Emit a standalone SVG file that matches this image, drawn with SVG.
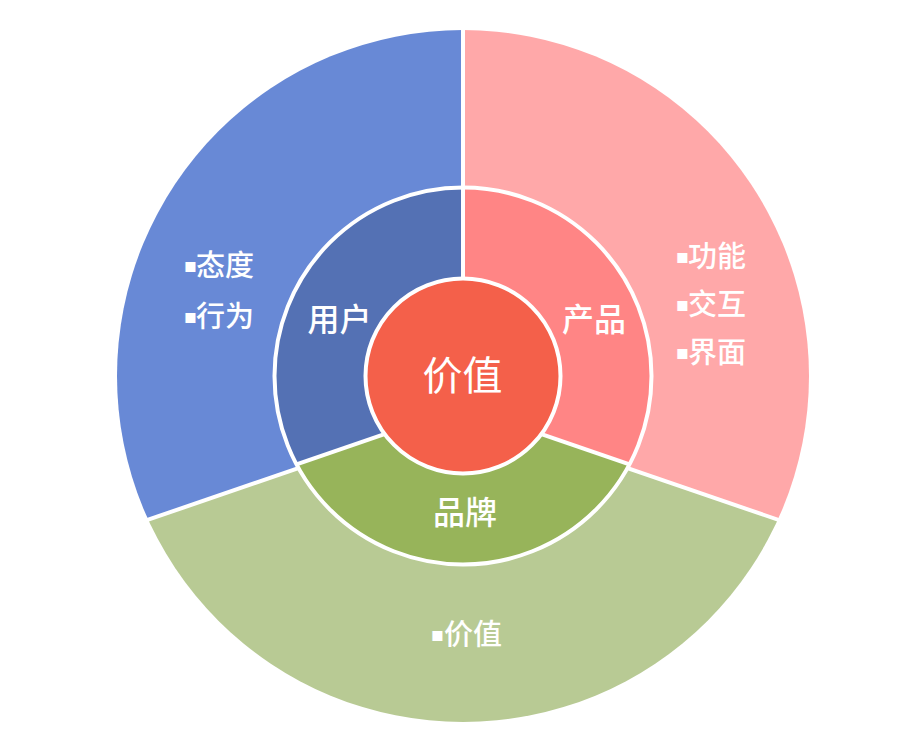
<svg xmlns="http://www.w3.org/2000/svg" width="919" height="753" viewBox="0 0 919 753">
<defs>
<style>
.sep{stroke:#fff;stroke-width:4;fill:none}
.t{font-family:"Noto Sans CJK SC","Noto Sans",sans-serif;fill:#fff;dominant-baseline:central}
.c{font-size:40px;font-weight:400;text-anchor:middle}
.m{font-size:32px;font-weight:500;text-anchor:middle}
.o{font-size:29px;font-weight:500}
.b{font-family:"DejaVu Sans",sans-serif;font-size:20px}
</style>
<clipPath id="outerClip"><circle cx="463" cy="376" r="346"/></clipPath>
<clipPath id="midClip"><circle cx="463" cy="376" r="188.5"/></clipPath>
</defs>
<rect width="919" height="753" fill="#fff"/>

<g id="outer-user" clip-path="url(#outerClip)">
<polygon points="463,20 463,411.7 100,536.2 100,20" fill="#6889D6"/>
</g>
<g id="outer-product" clip-path="url(#outerClip)">
<polygon points="463,20 463,411.7 826,536.2 826,20" fill="#FFA8A9"/>
</g>
<g id="outer-brand" clip-path="url(#outerClip)">
<polygon points="100,536.2 463,411.7 826,536.2 826,740 100,740" fill="#B8CA94"/>
</g>

<g id="connectors">
<line class="sep" x1="463" y1="20" x2="463" y2="300"/>
<line class="sep" x1="100" y1="536.2" x2="463" y2="411.7"/>
<line class="sep" x1="826" y1="536.2" x2="463" y2="411.7"/>
</g>

<g id="mid-user" clip-path="url(#midClip)">
<polygon points="463,150 463,407.2 250,480.3 250,150" fill="#5471B4"/>
</g>
<g id="mid-product" clip-path="url(#midClip)">
<polygon points="463,150 463,407.2 676,480.3 676,150" fill="#FF8585"/>
</g>
<g id="mid-brand" clip-path="url(#midClip)">
<polygon points="250,480.3 463,407.2 676,480.3 676,600 250,600" fill="#97B45A"/>
</g>
<g id="mid-separators" clip-path="url(#midClip)">
<line class="sep" x1="463" y1="150" x2="463" y2="300"/>
<line class="sep" x1="250" y1="480.3" x2="463" y2="407.2"/>
<line class="sep" x1="676" y1="480.3" x2="463" y2="407.2"/>
</g>
<circle class="sep" cx="463" cy="376" r="188.5"/>

<g id="core">
<circle cx="463" cy="376" r="97.5" fill="#F4604A" stroke="#fff" stroke-width="4"/>
<text class="t c" x="462.5" y="373">价值</text>
</g>

<g id="label-user"><text class="t m" x="339.5" y="317">用户</text></g>
<g id="label-product"><text class="t m" x="594" y="317">产品</text></g>
<g id="label-brand"><text class="t m" x="465" y="509.5">品牌</text></g>

<g id="items-user">
<text class="t o"><tspan class="b" x="183.5" y="265">▪</tspan><tspan x="196" y="263">态度</tspan></text>
<text class="t o"><tspan class="b" x="183.5" y="315.5">▪</tspan><tspan x="196" y="313.5">行为</tspan></text>
</g>
<g id="items-product">
<text class="t o"><tspan class="b" x="675.5" y="255.5">▪</tspan><tspan x="688" y="253.5">功能</tspan></text>
<text class="t o"><tspan class="b" x="675.5" y="303.5">▪</tspan><tspan x="688" y="301.5">交互</tspan></text>
<text class="t o"><tspan class="b" x="675.5" y="351.5">▪</tspan><tspan x="688" y="349.5">界面</tspan></text>
</g>
<g id="items-brand">
<text class="t o"><tspan class="b" x="430.5" y="634">▪</tspan><tspan x="444" y="632">价值</tspan></text>
</g>
</svg>
